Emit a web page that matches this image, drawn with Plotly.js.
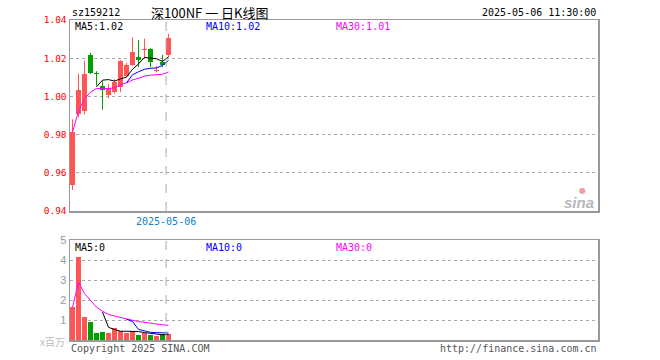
<!DOCTYPE html>
<html><head><meta charset="utf-8">
<script src="https://cdn.plot.ly/plotly-3.0.1.min.js"></script>
<style>html,body{margin:0;padding:0;background:#fff}#c{width:660px;height:360px}</style>
</head><body><div id="c"></div>
<script>
// ---- data ----
const idx = [0,1,2,3,4,5,6,7,8,9,10,11,12,13,14,15,16];
const openP  = [0.9534,0.9907,0.9921,1.0218,1.0125,1.0052,1.0008,1.0025,1.0047,1.0108,1.0165,1.0208,1.0241,1.0249,1.0132,1.0180,1.0219];
const highP  = [0.9880,1.0120,1.0187,1.0228,1.0132,1.0080,1.0065,1.0090,1.0190,1.0175,1.0310,1.0296,1.0302,1.0252,1.0160,1.0217,1.0328];
const lowP   = [0.9510,0.9890,0.9905,1.0118,1.0056,0.9930,0.9990,1.0015,1.0022,1.0100,1.0160,1.0153,1.0196,1.0153,1.0125,1.0153,1.0205];
const closeP = [0.9813,1.0033,1.0117,1.0125,1.0119,1.0031,1.0046,1.0078,1.0187,1.0165,1.0232,1.0188,1.0247,1.0179,1.0138,1.0162,1.0307];
const ma5P  = [null,null,null,null,1.0050,1.0085,1.0088,1.0080,1.0092,1.0101,1.0142,1.0170,1.0204,1.0202,1.0197,1.0183,1.0207];
const ma10P = [null,null,null,null,null,null,null,null,null,1.0071,1.0113,1.0129,1.0142,1.0147,1.0149,1.0162,1.0188];
const ma30P = [0.9813,0.9923,0.9988,1.0022,1.0041,1.0040,1.0041,1.0045,1.0061,1.0071,1.0086,1.0095,1.0106,1.0111,1.0113,1.0116,1.0128];
const vol   = [1.63,4.17,1.15,0.90,0.37,0.40,0.35,0.60,0.47,0.37,0.45,0.23,0.33,0.27,0.20,0.28,0.30];
const ma5V  = [null,null,null,null,null,1.398,0.634,0.524,0.438,0.438,0.448,0.424,0.370,0.330,0.296,0.262,0.276];
const ma10V = [null,null,null,null,null,null,null,null,null,1.041,0.923,0.529,0.447,0.384,0.367,0.355,0.350];
const ma30V = [1.63,2.90,2.317,1.963,1.644,1.437,1.281,1.196,1.115,1.041,0.987,0.924,0.878,0.835,0.792,0.760,0.733];
const priceTicks = [0.94,0.96,0.98,1.00,1.02,1.04];
const priceTickText = ['0.94','0.96','0.98','1.00','1.02','1.04'];
const volTicks = [1,2,3,4,5];
const lastDateLabel = '2025-05-06';
const lastDatePos = 15.6;

const RED = '#ff5555', GREEN = '#00a000';
const up = idx.map(i => closeP[i] >= openP[i]);
const colors = up.map(u => u ? RED : GREEN);

function wicks(flag){
  const x=[], y=[];
  idx.forEach(i => { if (up[i] === flag){ x.push(i,i,null); y.push(lowP[i],highP[i],null); } });
  return {x, y, type:'scatter', mode:'lines', line:{color: flag?RED:GREEN, width:1}, hoverinfo:'skip', xaxis:'x', yaxis:'y'};
}
const body = {
  type:'bar', x: idx,
  base: idx.map(i => Math.min(openP[i], closeP[i])),
  y: idx.map(i => Math.max(Math.abs(closeP[i]-openP[i]), 0.0006)),
  width: 0.8333, marker:{color: colors, line:{width:0}}, hoverinfo:'skip', xaxis:'x', yaxis:'y'
};
const lineT = (y, c, ax, ay) => ({x: idx, y, type:'scatter', mode:'lines', line:{color:c, width:1}, hoverinfo:'skip', xaxis:ax, yaxis:ay, connectgaps:false});
const volBars = {type:'bar', x: idx, y: vol, width:0.8333, marker:{color: colors, line:{width:0}}, hoverinfo:'skip', xaxis:'x2', yaxis:'y2'};

const data = [
  body, wicks(true), wicks(false),
  lineT(ma30P,'#ff00ff','x','y'), lineT(ma10P,'#0000ff','x','y'), lineT(ma5P,'#000000','x','y'),
  volBars,
  lineT(ma30V,'#ff00ff','x2','y2'), lineT(ma10V,'#0000ff','x2','y2'), lineT(ma5V,'#000000','x2','y2')
];

const L=70, R=598, T=20, B=340;
const px = v => (v - L)/(R - L);
const py = v => (B - v)/(B - T);
const mono = 'DejaVu Sans Mono';
const ann = (text, x, y, xa, color, size, fam, extra) => Object.assign({
  text, x: px(x), y: py(y), xref:'paper', yref:'paper', xanchor: xa, yanchor:'middle',
  showarrow:false, font:{family: fam||mono, size: size||10, color: color||'#000'}
}, extra||{});

const xr = [-0.4167, 87.5833];
const axBase = {showline:true, linecolor:'#999', linewidth:1.5, mirror:true, zeroline:false, fixedrange:true};
const layout = {
  width:660, height:360, margin:{l:L, r:660-R, t:T, b:360-B},
  paper_bgcolor:'#fff', plot_bgcolor:'#fff', showlegend:false, bargap:0,
  xaxis: Object.assign({}, axBase, {range: xr, domain:[0,1], anchor:'y', showgrid:false, showticklabels:false, ticks:''}),
  xaxis2: Object.assign({}, axBase, {range: xr, domain:[0,1], anchor:'y2', showgrid:false, showticklabels:false, ticks:''}),
  yaxis: Object.assign({}, axBase, {range:[0.94,1.04], domain:[py(211),1], anchor:'x',
    tickvals: priceTicks, ticktext: priceTickText, showgrid:true, gridcolor:'#aaa', griddash:'dot', gridwidth:1,
    ticks:'', tickfont:{family:mono, size:9.5, color:'#ff0000'}}),
  yaxis2: Object.assign({}, axBase, {range:[0,5], domain:[0,py(240)], anchor:'x2',
    tickvals: volTicks, showgrid:true, gridcolor:'#aaa', griddash:'dot', gridwidth:1,
    ticks:'', tickfont:{family:'Liberation Sans', size:11, color:'#999'}}),
  shapes: [
    {type:'line', xref:'x', yref:'y domain', x0:lastDatePos, x1:lastDatePos, y0:0, y1:1, line:{color:'#aaa', width:1, dash:'dash'}},
    {type:'line', xref:'x2', yref:'y2 domain', x0:lastDatePos, x1:lastDatePos, y0:0, y1:1, line:{color:'#aaa', width:1, dash:'dash'}}
  ],
  annotations: [
    ann('sz159212', 70, 12, 'left', '#000', 10),
    ann('深100NF 一 日K线图', 209, 12, 'center', '#000', 13, 'Noto Sans CJK SC'),
    ann('2025-05-06 11:30:00', 598, 12, 'right', '#000', 10),
    ann('MA5:1.02', 73, 27, 'left', '#000', 10),
    ann('MA10:1.02', 204, 27, 'left', '#0000ff', 10),
    ann('MA30:1.01', 334, 27, 'left', '#ff00ff', 10),
    ann('MA5:0', 73, 247, 'left', '#000', 10),
    ann('MA10:0', 204, 247, 'left', '#0000ff', 10),
    ann('MA30:0', 334, 247, 'left', '#ff00ff', 10),
    {text: lastDateLabel, x: lastDatePos, xref:'x', y: py(221), yref:'paper', xanchor:'center', yanchor:'middle', showarrow:false,
     font:{family:mono, size:10, color:'#0a84d0'}},
    ann('x百万', 67, 341, 'right', '#bbb', 10, 'Noto Sans CJK SC'),
    ann('Copyright 2025 SINA.COM', 69, 348, 'left', '#555', 10),
    ann('http://finance.sina.com.cn', 599, 348, 'right', '#555', 10),
    ann('sina', 596, 202, 'right', '#b8b8b8', 15, 'Liberation Sans', {font:{family:'Liberation Sans', size:15, color:'#b8b8b8', style:'italic', weight:'bold'}}),
    ann('●', 582, 190, 'center', '#f0a0a0', 8, 'DejaVu Sans')
  ]
};
Plotly.newPlot('c', data, layout, {staticPlot:true, displayModeBar:false});
</script></body></html>
